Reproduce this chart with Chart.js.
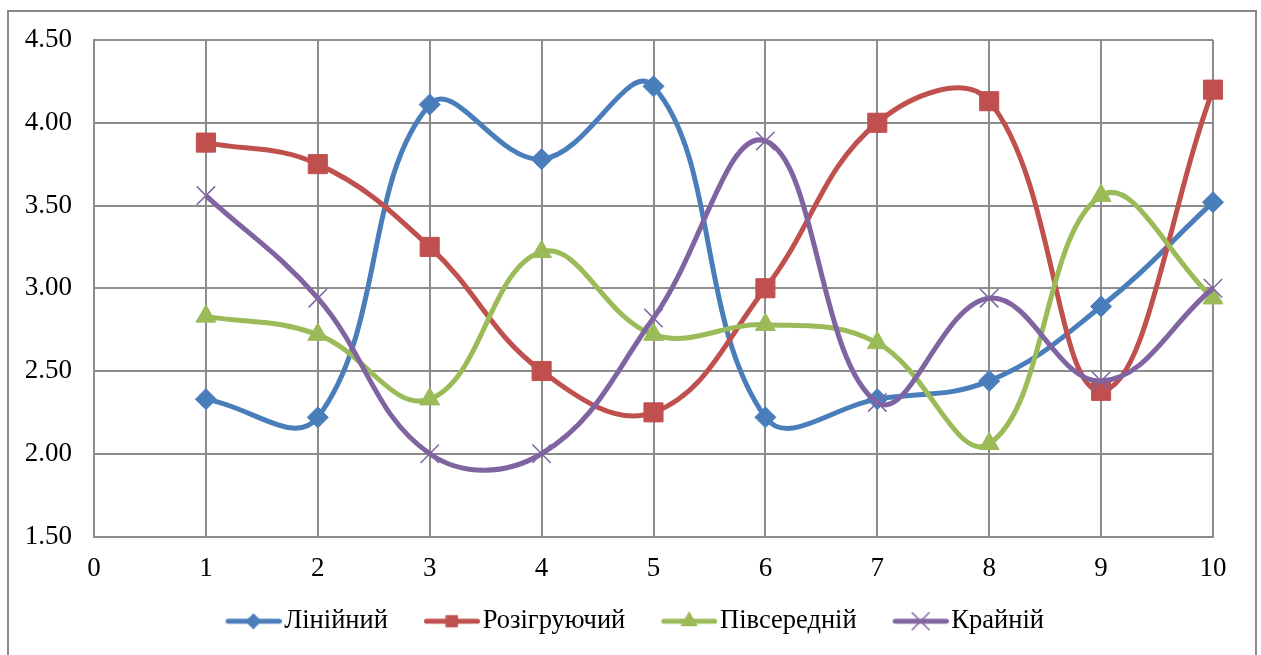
<!DOCTYPE html>
<html>
<head>
<meta charset="utf-8">
<script src="https://cdn.jsdelivr.net/npm/chart.js@4/dist/chart.umd.min.js"></script>
<style>
  html, body { margin: 0; padding: 0; background: #fff; }
  #wrap { width: 1261px; height: 655px; position: relative; overflow: hidden; }
</style>
</head>
<body>
<div id="wrap"><canvas id="chart" width="1261" height="655"></canvas></div>
<script>
// ── Data ─────────────────────────────────
const xValues       = [1, 2, 3, 4, 5, 6, 7, 8, 9, 10];
const liniinyi      = [2.33, 2.22, 4.11, 3.78, 4.22, 2.22, 2.33, 2.44, 2.89, 3.52];
const rozihruiuchyi = [3.88, 3.75, 3.25, 2.50, 2.25, 3.00, 4.00, 4.13, 2.38, 4.20];
const pivserednii   = [2.83, 2.72, 2.33, 3.22, 2.72, 2.78, 2.67, 2.06, 3.56, 2.94];
const krainii       = [3.56, 2.94, 2.00, 2.00, 2.82, 3.89, 2.31, 2.94, 2.44, 3.00];
const seriesNames   = ["Лінійний", "Розігруючий", "Півсередній", "Крайній"];

const xMin = 0, xMax = 10, xStep = 1;
const yMin = 1.5, yMax = 4.5, yStep = 0.5;

// ── Styles ───────────────────────────────
const FONT  = "'Liberation Serif', 'Times New Roman', serif";
const GRID  = "#8c8c8c";
const seriesStyle = [
  { color: "#4a7ebb", marker: "rectRot",  r: 10.5, lr: 7.5, bw: 1 },
  { color: "#c0504d", marker: "rect",     r: 13.5, lr: 8,   bw: 1 },
  { color: "#9bbb59", marker: "triangle", r: 11.5, lr: 9,   bw: 1 },
  { color: "#8064a2", marker: "crossRot", r: 13,   lr: 12,  bw: 1.5 },
];

const toPoints = arr => arr.map((v, i) => ({ x: xValues[i], y: v }));
const seriesData = [liniinyi, rozihruiuchyi, pivserednii, krainii];

// legend sample: short line with marker, sitting at the right end of a wider
// transparent canvas so the items get more room between them
const ICON_BOX = 70;                 // pointStyleWidth
const ICON_W   = ICON_BOX + 21;      // canvas width
function makeIcon(s) {
  const c = document.createElement("canvas");
  c.width = ICON_W; c.height = 28;
  const g = c.getContext("2d");
  const x1 = ICON_W - 53.5, x0 = ICON_W - 2.5;
  g.strokeStyle = s.color;
  g.lineWidth = 5;
  g.lineCap = "round";
  g.beginPath();
  g.moveTo(x1, 14); g.lineTo(x0, 14);
  g.stroke();
  g.fillStyle = s.color;
  g.lineWidth = s.bw;
  Chart.helpers.drawPoint(g, { pointStyle: s.marker, radius: s.lr, borderWidth: s.bw, rotation: 0 }, (x0 + x1) / 2, 14);
  return c;
}
const legendIcons = seriesStyle.map(makeIcon);

const datasets = seriesData.map((arr, i) => {
  const s = seriesStyle[i];
  return {
    label: seriesNames[i],
    data: toPoints(arr),
    borderColor: s.color,
    backgroundColor: s.color,
    borderWidth: 5,
    tension: 0.4,
    pointStyle: s.marker,
    pointRadius: s.r,
    pointBackgroundColor: s.color,
    pointBorderColor: s.color,
    pointBorderWidth: s.bw,
    order: 4 - i,          // later series on top, as in the original
    clip: false,
  };
});

// white background + outer frame
const framePlugin = {
  id: "frame",
  beforeDraw(chart) {
    const ctx = chart.ctx;
    ctx.save();
    ctx.fillStyle = "#fff";
    ctx.fillRect(0, 0, chart.width, chart.height);
    ctx.restore();
  },
  afterDraw(chart) {
    const ctx = chart.ctx;
    ctx.save();
    ctx.strokeStyle = "#8a8a8a";
    ctx.lineWidth = 2;
    ctx.strokeRect(8, 11, 1248, 700);
    ctx.restore();
  }
};

new Chart(document.getElementById("chart"), {
  type: "line",
  data: { datasets },
  options: {
    responsive: false,
    animation: false,
    layout: { padding: { top: 40, left: 0, right: 16, bottom: 10.5 } },
    plugins: {
      tooltip: { enabled: false },
      legend: {
        position: "bottom",
        align: "center",
        labels: {
          usePointStyle: true,
          pointStyleWidth: ICON_BOX,
          padding: 11.5,
          color: "#000",
          font: { family: FONT, size: 26.5 },
          generateLabels: chart => chart.data.datasets.map((ds, i) => ({
            text: ds.label,
            pointStyle: legendIcons[i],
            fillStyle: ds.borderColor,
            strokeStyle: ds.borderColor,
            lineWidth: 0,
            fontColor: "#000",
            hidden: !chart.isDatasetVisible(i),
            datasetIndex: i,
          })),
        },
      },
    },
    scales: {
      x: {
        type: "linear",
        min: xMin, max: xMax,
        afterFit: s => { s.height = 60; },
        grid: { color: GRID, lineWidth: 2, drawTicks: false },
        border: { color: GRID, width: 2 },
        ticks: {
          stepSize: xStep,
          padding: 16,
          color: "#000",
          font: { family: FONT, size: 27 },
          maxRotation: 0,
        },
      },
      y: {
        min: yMin, max: yMax,
        afterFit: s => { s.width = 94; },
        grid: { color: GRID, lineWidth: 2, drawTicks: false },
        border: { color: GRID, width: 2 },
        ticks: {
          stepSize: yStep,
          padding: 22,
          color: "#000",
          font: { family: FONT, size: 27 },
          callback: v => v.toFixed(2),
        },
      },
      yR: {
        position: "right",
        display: true,
        afterFit: s => { s.width = 32; },
        grid: { display: false, drawTicks: false },
        border: { display: false },
        ticks: { display: false },
      },
    },
  },
  plugins: [framePlugin],
});
</script>
</body>
</html>
